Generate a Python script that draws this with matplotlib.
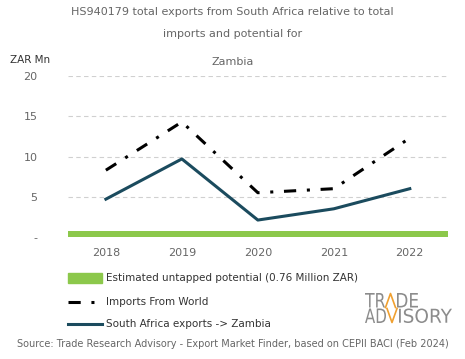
import matplotlib.pyplot as plt
import numpy as np
from matplotlib.font_manager import FontProperties
from matplotlib.patches import PathPatch
from matplotlib.textpath import TextPath
from matplotlib.transforms import Affine2D

years = ['2018', '2019', '2020', '2021', '2022']
sa_exports = [4.7, 9.7, 2.1, 3.5, 6.0]
world_imports = [8.3, 14.3, 5.5, 6.0, 12.3]
potential = 0.76

grey = '#666666'
W, H = 465, 359
plt.rcParams['font.family'] = ['DejaVu Sans']

fig = plt.figure(figsize=(W / 100, H / 100), dpi=100)
ax = fig.add_axes([0.146, 0.340, 0.817, 0.448])

x = np.arange(len(years))
ax.bar(x, [potential] * len(years), width=1.0, color='#8cc84b', zorder=2)
ax.plot(x, world_imports, color='black', lw=2.2, linestyle=(0, (4, 3.5, 1, 3.5)), zorder=3)
ax.plot(x, sa_exports, color='#1b4b5e', lw=2.2, zorder=3)

ax.set_xlim(-0.5, 4.5)
ax.set_ylim(0, 20)
ax.set_yticks([0, 5, 10, 15, 20])
ax.set_yticklabels(['-', '5', '10', '15', '20'])
ax.set_xticks(x)
ax.set_xticklabels(years)
ax.tick_params(length=0, labelsize=8, colors=grey, pad=8)
ax.tick_params(axis='y', pad=22)
for lbl in ax.get_yticklabels():
    lbl.set_horizontalalignment('right')
for v in [5, 10, 15, 20]:
    ax.axhline(v, color='#d0d0d0', lw=0.8, ls=(0, (4, 3)), zorder=1)
for s in ax.spines.values():
    s.set_visible(False)

# title
fig.text(0.5, 0.967, 'HS940179 total exports from South Africa relative to total',
         ha='center', va='center', fontsize=8, color=grey)
fig.text(0.5, 0.905, 'imports and potential for', ha='center', va='center', fontsize=8, color=grey)
fig.text(0.5, 0.827, 'Zambia', ha='center', va='center', fontsize=8, color=grey)
fig.text(0.022, 0.832, 'ZAR Mn', ha='left', va='center', fontsize=7.5, color='#333333')

# legend drawn by hand in figure coords
lx0, lx1, tx = 0.146, 0.220, 0.228
fig.patches.append(plt.Rectangle((lx0, 0.212), lx1 - lx0, 0.028, color='#8cc84b',
                                 transform=fig.transFigure, figure=fig))
fig.text(tx, 0.226, 'Estimated untapped potential (0.76 Million ZAR)', va='center',
         fontsize=7.5, color='#333333')
fig.lines.append(plt.Line2D([lx0, lx1], [0.159, 0.159], color='black', lw=2.2,
                            linestyle=(0, (4, 3.5, 1, 3.5)), transform=fig.transFigure))
fig.text(tx, 0.159, 'Imports From World', va='center', fontsize=7.5, color='#333333')
fig.lines.append(plt.Line2D([lx0, lx1], [0.098, 0.098], color='#1b4b5e', lw=2.2,
                            transform=fig.transFigure))
fig.text(tx, 0.098, 'South Africa exports -> Zambia', va='center', fontsize=7.5, color='#333333')

fig.text(0.5, 0.042, 'Source: Trade Research Advisory - Export Market Finder, based on CEPII BACI (Feb 2024)',
         ha='center', va='center', fontsize=7, color=grey)


# logo: glyphs squeezed into pixel boxes (top-left pixel coords)
logo_font = FontProperties(family='Liberation Sans Narrow')


def text_in_box(s, x0, x1, ytop, ybot, color):
    tp = TextPath((0, 0), s, size=10, prop=logo_font)
    ext = tp.get_extents()
    tr = (Affine2D().translate(-ext.x0, -ext.y0)
          .scale((x1 - x0) / ext.width, (ybot - ytop) / ext.height)
          .translate(x0, H - ybot))
    fig.patches.append(PathPatch(tr.transform_path(tp), color=color, lw=0,
                                 transform=None, figure=fig))


def px_line(xs, ys, color):
    fig.lines.append(plt.Line2D(xs, [H - y for y in ys], color=color, lw=1.2,
                                transform=None, figure=fig))


logo_grey = '#8c8c8c'
orange = '#f0a030'
text_in_box('TR', 365, 385, 293, 307.5, logo_grey)
text_in_box('DE', 397, 418, 293, 307.5, logo_grey)
px_line([385.5, 390.5, 395.5], [307.5, 293.5, 307.5], orange)
text_in_box('AD', 365, 386, 308.5, 323, logo_grey)
px_line([387, 392, 397], [308.5, 322.5, 308.5], orange)
text_in_box('ISORY', 399, 452, 308.5, 323, logo_grey)

fig.savefig('out.png', dpi=100)
